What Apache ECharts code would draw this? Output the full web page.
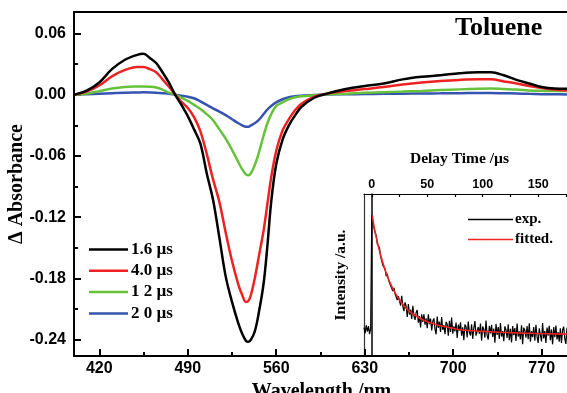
<!DOCTYPE html>
<html>
<head>
<meta charset="utf-8">
<script src="https://cdn.jsdelivr.net/npm/echarts@6/dist/echarts.min.js"></script>
<style>html,body{margin:0;padding:0;background:#fff}#c{width:567px;height:393px}</style>
</head>
<body>
<div id="c"></div>
<script>
// ---- main spectra ----
const wavelengths = [400,410,420,430,440,450,455,460,465,470,475,480,485,490,495,500,505,510,515,520,525,530,533,536,538,540,543,546,550,553,556,560,565,570,575,580,590,600,615,630,645,660,675,690,705,720,730,740,750,760,770,780,790];
const abs16 = [0.000,0.004,0.012,0.025,0.034,0.039,0.040,0.036,0.031,0.022,0.012,0.000,-0.010,-0.021,-0.034,-0.048,-0.077,-0.103,-0.140,-0.178,-0.203,-0.224,-0.234,-0.241,-0.242,-0.240,-0.232,-0.215,-0.185,-0.148,-0.105,-0.068,-0.044,-0.030,-0.020,-0.012,-0.003,0.001,0.0055,0.0085,0.011,0.015,0.0175,0.019,0.021,0.022,0.022,0.019,0.0145,0.011,0.0075,0.006,0.0058];
const abs40 = [0.000,0.003,0.009,0.018,0.024,0.027,0.027,0.025,0.022,0.015,0.008,0.000,-0.007,-0.013,-0.022,-0.036,-0.058,-0.083,-0.105,-0.135,-0.163,-0.186,-0.196,-0.203,-0.202,-0.196,-0.180,-0.160,-0.133,-0.107,-0.081,-0.055,-0.035,-0.024,-0.015,-0.009,-0.002,0.001,0.0035,0.0055,0.0075,0.010,0.012,0.0135,0.0145,0.015,0.015,0.013,0.011,0.0085,0.0065,0.005,0.0042];
const abs12 = [0.000,0.001,0.0035,0.006,0.0075,0.008,0.0081,0.0078,0.007,0.005,0.002,0.000,-0.003,-0.006,-0.010,-0.014,-0.019,-0.025,-0.034,-0.043,-0.054,-0.066,-0.073,-0.078,-0.079,-0.077,-0.069,-0.058,-0.040,-0.028,-0.019,-0.011,-0.0075,-0.0045,-0.0025,-0.0015,-0.0005,0.0003,0.001,0.0018,0.0025,0.003,0.0037,0.0045,0.0052,0.0058,0.006,0.0055,0.005,0.0042,0.0038,0.0035,0.0035];
const abs20 = [0.000,0.0005,0.001,0.0015,0.002,0.0022,0.0023,0.0022,0.002,0.0015,0.001,0.000,-0.001,-0.002,-0.0035,-0.0065,-0.010,-0.0135,-0.0165,-0.020,-0.024,-0.028,-0.030,-0.0315,-0.0315,-0.030,-0.028,-0.025,-0.019,-0.0145,-0.011,-0.0075,-0.0045,-0.0025,-0.0015,-0.001,-0.0002,0.0002,0.0004,0.0006,0.0008,0.001,0.0012,0.0013,0.0015,0.0016,0.0016,0.0014,0.0012,0.0008,0.0005,0.0004,0.0003];
const seriesNames = ['1.6 µs','4.0 µs','1 2 µs','2 0 µs'];
const xTickLabels = [420,490,560,630,700,770];
const xMinorTicks = [455,525,595,665,735];
const yTickLabels = [0.06,0.00,-0.06,-0.12,-0.18,-0.24];
const yMinorTicks = [0.03,-0.03,-0.09,-0.15,-0.21];

// ---- inset: decay ----
const delayTimes = [-7,-6,-5,-4,-3,-2,-1,0,1,2,3,4,5,6,7,8,9,10,11,12,13,14,15,16,17,18,19,20,21,22,23,24,25,26,27,28,29,30,31,32,33,34,35,36,37,38,39,40,41,42,43,44,45,46,47,48,49,50,51,52,53,54,55,56,57,58,59,60,61,62,63,64,65,66,67,68,69,70,71,72,73,74,75,76,77,78,79,80,81,82,83,84,85,86,87,88,89,90,91,92,93,94,95,96,97,98,99,100,101,102,103,104,105,106,107,108,109,110,111,112,113,114,115,116,117,118,119,120,121,122,123,124,125,126,127,128,129,130,131,132,133,134,135,136,137,138,139,140,141,142,143,144,145,146,147,148,149,150,151,152,153,154,155,156,157,158,159,160,161,162,163,164,165,166,167,168,169,170,171,172,173,174,175,176];
const expIntensity = [0.175,0.140,0.190,0.150,0.185,0.135,0.170,
0.870,0.823,0.815,0.761,0.745,0.691,0.683,0.666,0.613,0.602,
0.559,0.564,0.538,0.493,0.507,0.473,0.480,0.434,0.437,0.401,
0.420,0.383,0.382,0.346,0.369,0.365,0.311,0.372,0.307,0.277,
0.331,0.306,0.241,0.320,0.256,0.286,0.229,0.310,0.249,0.223,
0.268,0.284,0.206,0.246,0.177,0.257,0.210,0.257,0.194,0.233,
0.172,0.258,0.197,0.231,0.158,0.214,0.232,0.166,0.134,0.244,
0.174,0.212,0.149,0.241,0.162,0.190,0.135,0.211,0.196,0.125,
0.217,0.148,0.237,0.138,0.183,0.152,0.206,0.111,0.193,0.156,
0.208,0.125,0.177,0.098,0.194,0.181,0.114,0.212,0.145,0.127,
0.196,0.106,0.173,0.215,0.126,0.114,0.179,0.137,0.200,0.094,
0.182,0.164,0.113,0.219,0.127,0.102,0.186,0.140,0.193,0.117,
0.169,0.082,0.198,0.130,0.179,0.105,0.203,0.120,0.154,0.092,
0.183,0.161,0.111,0.196,0.098,0.168,0.084,0.185,0.129,0.173,
0.093,0.201,0.120,0.152,0.102,0.190,0.073,0.175,0.159,0.113,
0.185,0.104,0.202,0.088,0.154,0.116,0.179,0.095,0.193,0.121,
0.081,0.171,0.160,0.090,0.204,0.108,0.154,0.081,0.175,0.125,
0.187,0.097,0.164,0.072,0.178,0.116,0.188,0.102,0.147,0.089,
0.171,0.081,0.159,0.181,0.105,0.075,0.175];
const fitTimes = [0.5,2,4,6,8,10,12,14,16,18,20,23,26,30,34,38,42,46,50,55,60,65,70,80,90,100,115,130,150,176];
const fitIntensity = [0.870,0.800,0.735,0.675,0.622,0.575,0.532,0.494,0.460,0.430,0.403,0.367,0.337,0.303,0.276,0.255,0.238,0.224,0.212,0.200,0.190,0.182,0.175,0.162,0.156,0.152,0.147,0.143,0.139,0.135];
const insetTickLabels = [0,50,100,150];
const insetTicks = [0,25,50,75,100,125,150,175];

const SANS = 'Liberation Sans, Arial, sans-serif';
const SERIF = 'Liberation Serif, Times New Roman, serif';
const colors = ['#000000','#ee2222','#66c23a','#3553b0'];
const absSets = [abs16, abs40, abs12, abs20];

const zip = (xs, ys) => xs.map((x, i) => [x, ys[i]]);

const mainSeries = absSets.map((arr, i) => ({
  name: seriesNames[i], type: 'line', xAxisIndex: 0, yAxisIndex: 0,
  data: zip(wavelengths, arr), showSymbol: false, symbol: 'none',
  smooth: 0.35, lineStyle: { color: colors[i], width: 2.5 }, itemStyle: { color: colors[i] },
  z: 10 - i
}));

const chart = echarts.init(document.getElementById('c'), null, { renderer: 'canvas' });
chart.setOption({
  animation: false,
  backgroundColor: '#fff',
  grid: [
    { left: 74, top: 12, right: -2, bottom: 37, containLabel: false, outerBoundsMode: 'none' },
    { left: 364, top: 194, right: 0, bottom: 37, containLabel: false, outerBoundsMode: 'none' }
  ],
  xAxis: [
    { type: 'value', gridIndex: 0, position: 'bottom', min: 400, max: 791.6,
      axisLine: { show: true, onZero: false, lineStyle: { color: '#000', width: 2 } },
      axisTick: { show: true, inside: true, length: 7, customValues: xTickLabels, lineStyle: { color: '#000', width: 2 } },
      axisLabel: { show: true, customValues: xTickLabels, margin: 5, color: '#000', fontFamily: SANS, fontWeight: 'bold', fontSize: 16 },
      splitLine: { show: false },
      name: 'Wavelength /nm', nameLocation: 'middle', nameGap: 22,
      nameTextStyle: { fontFamily: SERIF, fontWeight: 'bold', fontSize: 20, color: '#000' } },
    { type: 'value', gridIndex: 0, position: 'bottom', min: 400, max: 791.6,
      axisLine: { show: false, onZero: false },
      axisTick: { show: true, inside: true, length: 4, customValues: xMinorTicks, lineStyle: { color: '#000', width: 2 } },
      axisLabel: { show: false }, splitLine: { show: false } },
    { type: 'value', gridIndex: 0, position: 'top', min: 400, max: 791.6,
      axisLine: { show: true, onZero: false, lineStyle: { color: '#000', width: 2 } },
      axisTick: { show: false }, axisLabel: { show: false }, splitLine: { show: false } },
    { type: 'value', gridIndex: 1, position: 'top', min: -7, max: 176,
      axisLine: { show: true, onZero: false, lineStyle: { color: '#000', width: 1.2 } },
      axisTick: { show: true, inside: true, length: 3, customValues: insetTicks, lineStyle: { color: '#000', width: 1.2 } },
      axisLabel: { show: true, customValues: insetTickLabels, margin: 3, color: '#000', fontFamily: SANS, fontWeight: 'bold', fontSize: 12.5 },
      splitLine: { show: false },
      name: 'Delay Time /µs', nameLocation: 'middle', nameGap: 27,
      nameTextStyle: { fontFamily: SERIF, fontWeight: 'bold', fontSize: 15.5, color: '#000', padding: [0, 12, 0, 0] } }
  ],
  yAxis: [
    { type: 'value', gridIndex: 0, position: 'left', min: -0.256, max: 0.081,
      axisLine: { show: true, onZero: false, lineStyle: { color: '#000', width: 2 } },
      axisTick: { show: true, inside: true, length: 7, customValues: yTickLabels, lineStyle: { color: '#000', width: 2 } },
      axisLabel: { show: true, customValues: yTickLabels, margin: 8, color: '#000', fontFamily: SANS, fontWeight: 'bold', fontSize: 16,
        formatter: v => (Math.abs(v) < 1e-9 ? 0 : v).toFixed(2) },
      splitLine: { show: false },
      name: 'Δ Absorbance', nameLocation: 'middle', nameGap: 47, nameMoveOverlap: false,
      nameTextStyle: { fontFamily: SERIF, fontWeight: 'bold', fontSize: 20, color: '#000' } },
    { type: 'value', gridIndex: 0, position: 'left', min: -0.256, max: 0.081,
      axisLine: { show: false, onZero: false },
      axisTick: { show: true, inside: true, length: 4, customValues: yMinorTicks, lineStyle: { color: '#000', width: 2 } },
      axisLabel: { show: false }, splitLine: { show: false } },
    { type: 'value', gridIndex: 1, position: 'left', min: 0, max: 1,
      axisLine: { show: true, onZero: true, lineStyle: { color: '#000', width: 1.5 } },
      axisTick: { show: false }, axisLabel: { show: false }, splitLine: { show: false } },
    { type: 'value', gridIndex: 1, min: 0, max: 1, position: 'left',
      axisLine: { show: true, onZero: false, lineStyle: { color: '#333', width: 1.2 } },
      axisTick: { show: false }, axisLabel: { show: false }, splitLine: { show: false },
      name: 'Intensity /a.u.', nameLocation: 'middle', nameGap: 15,
      nameTextStyle: { fontFamily: SERIF, fontWeight: 'bold', fontSize: 15.5, color: '#000' } }
  ],
  legend: [
    { data: seriesNames, orient: 'vertical', left: 89, top: 241, padding: 0,
      icon: 'rect', itemWidth: 39, itemHeight: 2.5, itemGap: 4.3,
      textStyle: { fontFamily: SERIF, fontWeight: 'bold', fontSize: 17, lineHeight: 17, color: '#000', padding: [0,0,0,-2] } },
    { data: ['exp.', 'fitted.'], orient: 'vertical', left: 468, top: 212, padding: 0,
      icon: 'rect', itemWidth: 45, itemHeight: 1.5, itemGap: 5,
      textStyle: { fontFamily: SERIF, fontWeight: 'bold', fontSize: 15, lineHeight: 15, color: '#000', padding: [0,0,0,-3] } }
  ],
  graphic: [
    { type: 'text', left: 455, top: 15, z: 100,
      style: { text: 'Toluene', fontFamily: SERIF, fontWeight: 'bold', fontSize: 26, fill: '#000' } }
  ],
  series: [
    ...mainSeries,
    { name: 'exp.', type: 'line', xAxisIndex: 3, yAxisIndex: 2, data: zip(delayTimes, expIntensity),
      showSymbol: false, symbol: 'none', lineStyle: { color: '#000', width: 1.2 }, itemStyle: { color: '#000' }, z: 5 },
    { name: 'fitted.', type: 'line', xAxisIndex: 3, yAxisIndex: 2, data: zip(fitTimes, fitIntensity),
      showSymbol: false, symbol: 'none', smooth: 0.4, lineStyle: { color: '#ee2222', width: 1.6 }, itemStyle: { color: '#ee2222' }, z: 6 }
  ]
});
</script>
</body>
</html>
